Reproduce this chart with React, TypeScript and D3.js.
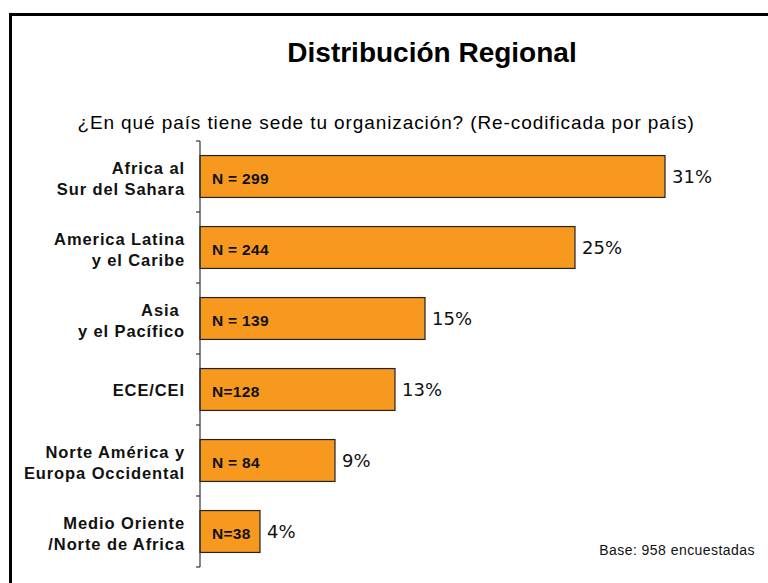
import React from "react";
import * as d3 from "d3";

const categories = [
  ["Africa al", "Sur del Sahara"],
  ["America Latina", "y el Caribe"],
  ["Asia ", "y el Pacífico"],
  ["ECE/CEI"],
  ["Norte América y", "Europa Occidental"],
  ["Medio Oriente", "/Norte de Africa"],
];
const categoryKeys = ["ASS", "ALC", "AP", "ECE", "NAEO", "MONA"];
const percents = [31, 25, 15, 13, 9, 4];
const nLabels = ["N = 299", "N = 244", "N = 139", "N=128", "N = 84", "N=38"];

const W = 768;
const H = 583;

export default function App() {
  const x = d3.scaleLinear().domain([0, 35]).range([200, 725]);
  const y = d3.scaleBand<string>().domain(categoryKeys).range([141, 567]).padding(0);
  const barH = y.step() * 0.59;
  const tickYs = [...categoryKeys.map((k) => y(k) as number), 567];
  const font = "'Liberation Sans', Arial, Helvetica, sans-serif";

  return (
    <svg
      width={W}
      height={H}
      style={{ position: "absolute", left: 0, top: 0, background: "#fff" }}
      fontFamily={font}
    >
      <rect x={0} y={0} width={W} height={H} fill="#fff" />
      <rect x={10.5} y={14.5} width={W + 20} height={H + 20} fill="none" stroke="#000" strokeWidth={3} />
      <text x={432} y={62} textAnchor="middle" fontSize={28} fontWeight="bold" fill="#000">
        Distribución Regional
      </text>
      <text x={386} y={129} textAnchor="middle" fontSize={19} letterSpacing={0.9} fill="#000">
        ¿En qué país tiene sede tu organización? (Re-codificada por país)
      </text>

      {categoryKeys.map((k, i) => {
        const cy = (y(k) as number) + y.bandwidth() / 2;
        const y0 = cy - barH / 2;
        const lines = categories[i];
        return (
          <g key={k}>
            <rect
              x={x(0)}
              y={y0}
              width={x(percents[i]) - x(0)}
              height={barH}
              fill="#F7991F"
              stroke="#222"
              strokeWidth={1.2}
            />
            <text x={212} y={cy + 7} fontSize={15.5} fontWeight="bold" letterSpacing={0.3} fill="#111">
              {nLabels[i]}
            </text>
            <text
              x={x(percents[i]) + 7}
              y={cy + 6.5}
              fontSize={18}
              fontFamily="'DejaVu Sans', Verdana, sans-serif"
              fill="#111"
            >
              {percents[i]}%
            </text>
            {lines.length === 1 ? (
              <text x={185} y={cy + 6} textAnchor="end" fontSize={16.5} fontWeight="bold" letterSpacing={0.9} fill="#111">
                {lines[0]}
              </text>
            ) : (
              lines.map((ln, j) => (
                <text
                  key={j}
                  x={185}
                  y={cy - 2.5 + j * 20.5}
                  textAnchor="end"
                  fontSize={16.5}
                  fontWeight="bold"
                  letterSpacing={0.9}
                  fill="#111"
                  style={{ whiteSpace: "pre" }}
                >
                  {ln}
                </text>
              ))
            )}
          </g>
        );
      })}

      <line x1={200} x2={200} y1={141} y2={567} stroke="#333" strokeWidth={1.2} />
      {tickYs.map((ty, i) => (
        <line key={i} x1={196} x2={200} y1={ty} y2={ty} stroke="#333" strokeWidth={1.2} />
      ))}

      <text x={755} y={555} textAnchor="end" fontSize={14} letterSpacing={0.45} fill="#111">
        Base: 958 encuestadas
      </text>
    </svg>
  );
}
